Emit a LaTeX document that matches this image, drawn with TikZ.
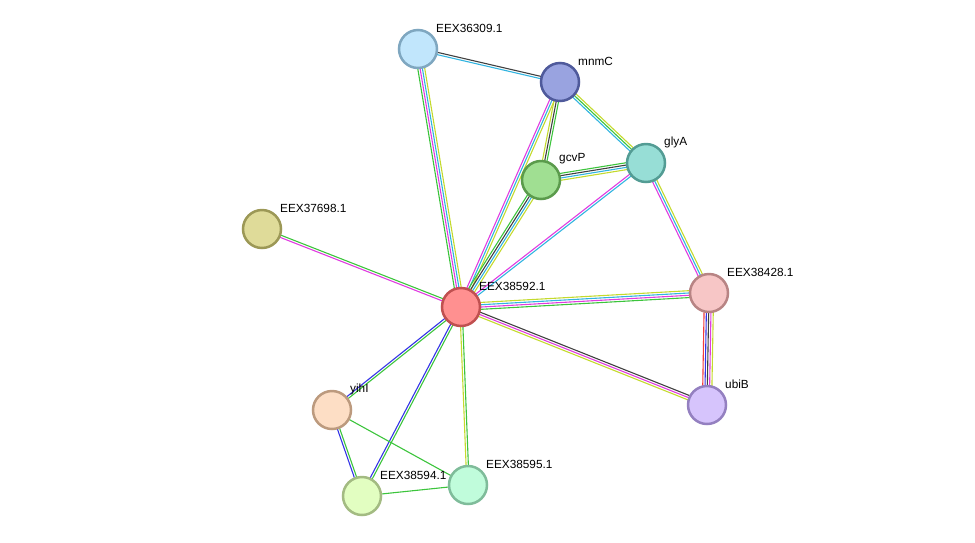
\documentclass[tikz,border=0pt]{standalone}
\usepackage{fontspec}
\setmainfont{Liberation Sans}
\usetikzlibrary{calc}
\definecolor{StrGreen}{HTML}{3CC43C}
\definecolor{StrMagenta}{HTML}{E03CE0}
\definecolor{StrCyan}{HTML}{32B4E0}
\definecolor{StrYellow}{HTML}{C4DA2E}
\definecolor{StrBlack}{HTML}{404040}
\definecolor{StrBlue}{HTML}{3434E6}
\definecolor{StrRed}{HTML}{F03C3C}
\definecolor{FillA}{HTML}{C1E6FC}\definecolor{EdgeA}{HTML}{7FA7C0}
\definecolor{FillB}{HTML}{99A3E0}\definecolor{EdgeB}{HTML}{4F5A9B}
\definecolor{FillC}{HTML}{A0DF92}\definecolor{EdgeC}{HTML}{5B9B4C}
\definecolor{FillD}{HTML}{97DED6}\definecolor{EdgeD}{HTML}{539C94}
\definecolor{FillE}{HTML}{DFDB99}\definecolor{EdgeE}{HTML}{9C9856}
\definecolor{FillF}{HTML}{FF9090}\definecolor{EdgeF}{HTML}{C05050}
\definecolor{FillG}{HTML}{F7C6C6}\definecolor{EdgeG}{HTML}{B88484}
\definecolor{FillH}{HTML}{D6C4FC}\definecolor{EdgeH}{HTML}{9480C0}
\definecolor{FillI}{HTML}{FDDEC5}\definecolor{EdgeI}{HTML}{BC9A7E}
\definecolor{FillJ}{HTML}{E2FEC1}\definecolor{EdgeJ}{HTML}{A3BB82}
\definecolor{FillK}{HTML}{C0FCDB}\definecolor{EdgeK}{HTML}{7FBC9A}
\pgfdeclarelayer{background}
\pgfsetlayers{background,main}
\tikzset{
  protein/.style={circle, minimum size=38pt, inner sep=0pt, line width=2.5pt},
  tag/.style={anchor=west, inner sep=0pt, font=\fontsize{11.8}{13}\selectfont},
  edge/.style={line width=1.1pt}
}
% one coloured line per kind of evidence, laid side by side
\newcommand{\strand}[3]{%
  \foreach \clr [count=\i] in {#3} {\xdef\ncol{\i}}%
  \foreach \clr [count=\i] in {#3} {%
    \pgfmathsetmacro\off{(\i-(\ncol+1)/2)*2.3}%
    \draw[edge,\clr] ($(#1.center)!\off pt!90:(#2.center)$) -- ($(#2.center)!\off pt!-90:(#1.center)$);
  }}

\begin{document}
\begin{tikzpicture}[x=1pt, y=-1pt]
    \useasboundingbox (0,0) rectangle (975,542);

    % proteins
    \node[protein, fill=FillA, draw=EdgeA] (s36309) at (418,49) {};
    \node[protein, fill=FillB, draw=EdgeB] (mnmC) at (560,82) {};
    \node[protein, fill=FillC, draw=EdgeC] (gcvP) at (541,180) {};
    \node[protein, fill=FillD, draw=EdgeD] (glyA) at (646,163) {};
    \node[protein, fill=FillE, draw=EdgeE] (s37698) at (262,229) {};
    \node[protein, fill=FillF, draw=EdgeF] (s592) at (461,307) {};
    \node[protein, fill=FillG, draw=EdgeG] (s428) at (709,293) {};
    \node[protein, fill=FillH, draw=EdgeH] (ubiB) at (707,405) {};
    \node[protein, fill=FillI, draw=EdgeI] (yihI) at (332,410) {};
    \node[protein, fill=FillJ, draw=EdgeJ] (s594) at (362,496) {};
    \node[protein, fill=FillK, draw=EdgeK] (s595) at (468,485) {};

    % names
    \node[tag] (t36309) at ([shift={(18,-21)}]s36309.center) {EEX36309.1};
    \node[tag] (tmnmC) at ([shift={(18,-21)}]mnmC.center) {mnmC};
    \node[tag] (tgcvP) at ([shift={(18,-21)}]gcvP.center) {gcvP};
    \node[tag] (tglyA) at ([shift={(18,-21)}]glyA.center) {glyA};
    \node[tag] (t37698) at ([shift={(18,-21)}]s37698.center) {EEX37698.1};
    \node[tag] (t592) at ([shift={(18,-21)}]s592.center) {EEX38592.1};
    \node[tag] (t428) at ([shift={(18,-21)}]s428.center) {EEX38428.1};
    \node[tag] (tubiB) at ([shift={(18,-21)}]ubiB.center) {ubiB};
    \node[tag] (tyihI) at ([shift={(18,-21)}]yihI.center) {yihI};
    \node[tag] (t594) at ([shift={(18,-21)}]s594.center) {EEX38594.1};
    \node[tag] (t595) at ([shift={(18,-21)}]s595.center) {EEX38595.1};

    % interactions
    \begin{pgfonlayer}{background}
    \strand{s36309}{mnmC}{StrCyan,StrBlack}
    \strand{s36309}{s592}{StrGreen,StrMagenta,StrCyan,StrYellow}
    \strand{mnmC}{s592}{StrMagenta,StrCyan,StrYellow}
    \strand{mnmC}{gcvP}{StrYellow,StrBlack,StrGreen}
    \strand{mnmC}{glyA}{StrCyan,StrGreen,StrYellow}
    \strand{gcvP}{glyA}{StrYellow,StrCyan,StrBlack,StrGreen}
    \strand{gcvP}{s592}{StrGreen,StrBlack,StrCyan,StrYellow}
    \strand{glyA}{s592}{StrMagenta,StrCyan}
    \strand{glyA}{s428}{StrMagenta,StrCyan,StrYellow}
    \strand{s592}{s428}{StrGreen,StrMagenta,StrCyan,StrYellow}
    \strand{s592}{ubiB}{StrYellow,StrMagenta,StrBlack}
    \strand{s428}{ubiB}{StrRed,StrBlue,StrBlack,StrMagenta,StrYellow}
    \strand{s37698}{s592}{StrMagenta,StrGreen}
    \strand{s592}{yihI}{StrBlue,StrGreen}
    \strand{s592}{s594}{StrBlue,StrGreen}
    \strand{s592}{s595}{StrYellow,StrGreen}
    \strand{yihI}{s594}{StrBlue,StrGreen}
    \strand{yihI}{s595}{StrGreen}
    \strand{s594}{s595}{StrGreen}
    \end{pgfonlayer}
\end{tikzpicture}
\end{document}
